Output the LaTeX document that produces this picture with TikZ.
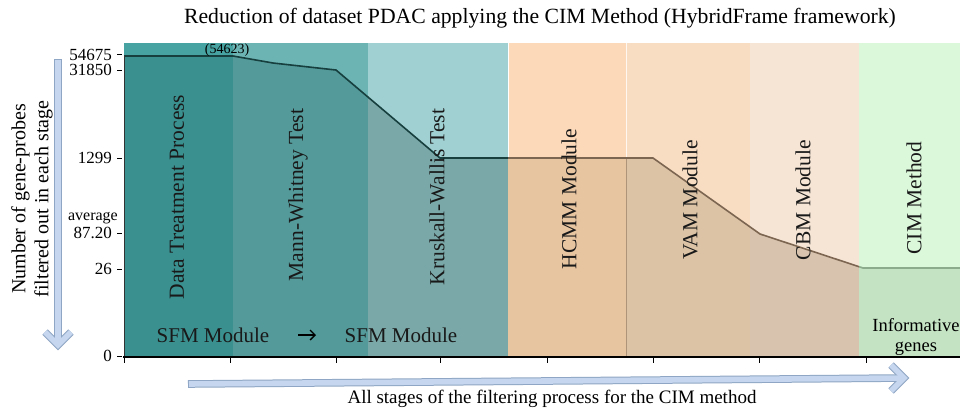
\documentclass[tikz,border=0pt]{standalone}
\usepackage{fontspec}
\setmainfont{Liberation Serif}
\usetikzlibrary{arrows.meta}
\begin{document}
\begin{tikzpicture}[x=1pt,y=-1pt,
  collabel/.style={rotate=90,anchor=center,font=\fontsize{21.5}{24}\selectfont,text=black!90},
  ticklabel/.style={anchor=east,font=\fontsize{17}{19}\selectfont,inner sep=0pt},
  modlabel/.style={font=\fontsize{21}{24}\selectfont,text=black!90,inner sep=0pt},
  arrowedge/.style={draw=arrowline,line width=7.6pt,line join=miter},
  arrowfill/.style={draw=arrowfillc,line width=5.6pt,line join=miter}]

\definecolor{cA}{HTML}{46A3A1}\definecolor{cAd}{HTML}{3A908F}
\definecolor{cB}{HTML}{6CB4B4}\definecolor{cBd}{HTML}{549A9A}
\definecolor{cC}{HTML}{A0D0D2}\definecolor{cCd}{HTML}{7AA8A8}
\definecolor{cD}{HTML}{FCD9B8}\definecolor{cDd}{HTML}{E8C5A1}
\definecolor{cE}{HTML}{F9DDC2}\definecolor{cEd}{HTML}{DCC3A6}
\definecolor{cF}{HTML}{F6E5D5}\definecolor{cFd}{HTML}{D7C3AE}
\definecolor{cG}{HTML}{DBF8DA}\definecolor{cGd}{HTML}{C3E3C3}
\definecolor{curveT}{HTML}{163F3E}
\definecolor{curveO}{HTML}{7D6651}
\definecolor{curveG}{HTML}{8CAA8C}
\definecolor{arrowline}{HTML}{8FA6C4}
\definecolor{arrowfillc}{HTML}{C5D6EE}

\useasboundingbox (0,0) rectangle (960,410);
\fill[white] (0,0) rectangle (960,410);

% stage columns, upper (light) part
\fill[cA] (124,43) rectangle (233,356);
\fill[cB] (233,43) rectangle (368,356);
\fill[cC] (368,43) rectangle (508,356);
\fill[cD] (508,43) rectangle (626,356);
\fill[cE] (626,43) rectangle (750,356);
\fill[cF] (750,43) rectangle (859,356);
\fill[cG] (859,43) rectangle (960,356);
\draw[white,line width=1pt] (508,43) -- (508,158);
\draw[white!80!cD,line width=0.6pt] (626,43) -- (626,158);

% area below the reduction curve (darker part)
\begin{scope}
  \clip (124,56) -- (233,56) -- (273,63) -- (336,70) -- (440,158) -- (653,158)
        -- (760,234) -- (863,268) -- (960,268) -- (960,356) -- (124,356) -- cycle;
  \fill[cAd] (124,43) rectangle (233,356);
  \fill[cBd] (233,43) rectangle (368,356);
  \fill[cCd] (368,43) rectangle (508,356);
  \fill[cDd] (508,43) rectangle (626,356);
  \fill[cEd] (626,43) rectangle (750,356);
  \fill[cFd] (750,43) rectangle (859,356);
  \fill[cGd] (859,43) rectangle (960,356);
  \draw[black!25!cDd,line width=0.5pt] (626,158) -- (626,356);
\end{scope}

% reduction curve
\begin{scope}
  \clip (120,40) rectangle (508,360);
  \draw[curveT,line width=1.6pt] (124,56) -- (233,56) -- (273,63) -- (336,70) -- (440,158) -- (653,158);
\end{scope}
\begin{scope}
  \clip (508,40) rectangle (859,360);
  \draw[curveO,line width=1.6pt] (440,158) -- (653,158) -- (760,234) -- (863,268) -- (960,268);
\end{scope}
\begin{scope}
  \clip (859,40) rectangle (960,360);
  \draw[curveG,line width=1.6pt] (760,234) -- (863,268) -- (960,268);
\end{scope}
\node[font=\fontsize{14}{16}\selectfont,inner sep=0pt] (peak) at (227,50) {(54623)};

% vertical axis
\draw[black!80,line width=0.8pt] (124,56) -- (124,356);
\foreach \yy/\lab/\nm in {54.5/54675/ya,70/31850/yb,158/1299/yc,233/87.20/yd,269/26/ye,356/0/yf}{
  \draw[black,line width=0.8pt] (117,\yy) -- (122,\yy);
  \node[ticklabel] (\nm) at (112,\yy) {\lab};
}
\node[anchor=east,font=\fontsize{16}{18}\selectfont,inner sep=0pt] (avg) at (118,218) {average};

% horizontal axis
\draw[black,line width=2pt] (123,356.5) -- (960,356.5);
\foreach \xx in {124,230,336,440,547,653,759,866}{
  \draw[black,line width=1pt] (\xx,356) -- (\xx,363);
}

% stage labels
\node[collabel] (dtp) at (177,197) {Data Treatment Process};
\node[collabel] (mwt) at (298,195) {Mann-Whitney Test};
\node[collabel] (kwt) at (437,197) {Kruskall-Wallis Test};
\node[collabel] (hcmm) at (569,199) {HCMM Module};
\node[collabel] (vam) at (690,200) {VAM Module};
\node[collabel] (cbm) at (803,200) {CBM Module};
\node[collabel] (cim) at (914,198) {CIM Method};

% module labels at the bottom
\node[modlabel] (sfma) at (213,335) {SFM Module};
\node[modlabel] (sfmb) at (401,335) {SFM Module};
\coordinate (sfmarrA) at (298,335);
\coordinate (sfmarrB) at (316,335);
\draw[black,line width=1.3pt,-{Straight Barb[length=5pt,width=10pt]}] (sfmarrA) -- (sfmarrB);
\node[align=center,font=\fontsize{18.5}{20}\selectfont,inner sep=0pt] (info) at (916,337) {Informative\\genes};

% axis titles
\node[rotate=90,align=center,font=\fontsize{20}{23}\selectfont,inner sep=0pt] (ytitle) at (32,199)
  {Number of gene-probes\\filtered out in each stage};
\node[font=\fontsize{19}{22}\selectfont,inner sep=0pt] (xtitle) at (552,399)
  {All stages of the filtering process for the CIM method};
\node[font=\fontsize{21.7}{24}\selectfont,inner sep=0pt] (title) at (540,18)
  {Reduction of dataset PDAC applying the CIM Method (HybridFrame framework)};

% block arrows along both axes
\coordinate (vtop) at (58,59);
\coordinate (vtip) at (58,345);
\coordinate (htail) at (188,384);
\coordinate (htip) at (904,378);
\draw[arrowedge] (vtop) -- (vtip);
\draw[arrowedge] (45,332) -- (vtip) -- (71,332);
\draw[arrowedge] (htail) -- (htip);
\draw[arrowedge] (891,365) -- (htip) -- (891,391);
\draw[arrowfill,shorten <=1pt] (vtop) -- (vtip);
\draw[arrowfill] (45,332) -- (vtip) -- (71,332);
\draw[arrowfill,shorten <=1pt] (htail) -- (htip);
\draw[arrowfill] (891,365) -- (htip) -- (891,391);
\end{tikzpicture}
\end{document}
